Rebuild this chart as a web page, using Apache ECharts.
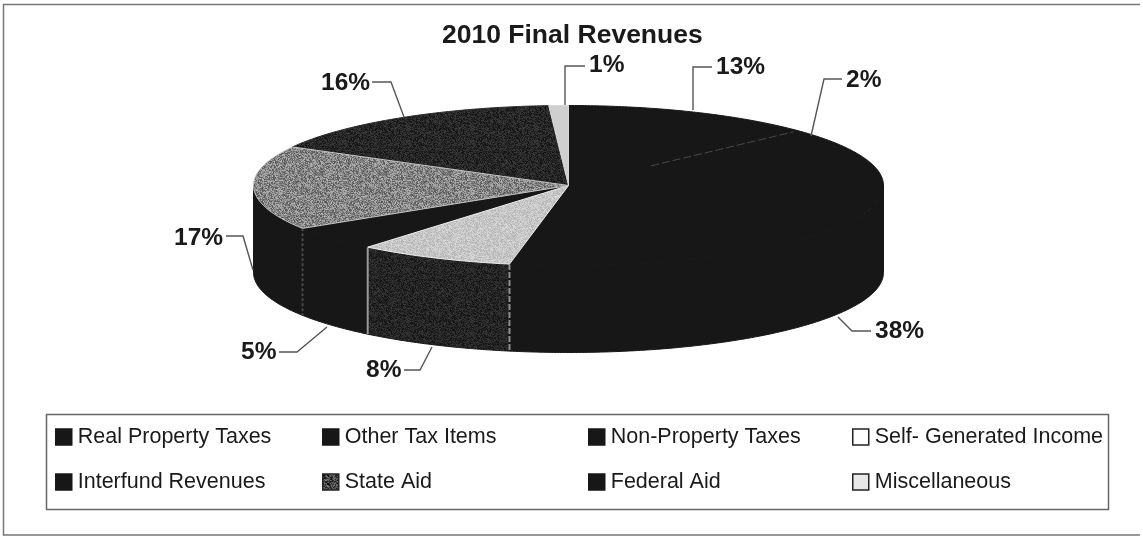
<!DOCTYPE html>
<html>
<head>
<meta charset="utf-8">
<style>html,body{margin:0;padding:0;background:#fff}#chart{width:1143px;height:537px}</style>
<script src="https://cdn.jsdelivr.net/npm/echarts@6/dist/echarts.min.js"></script>
</head>
<body>
<div id="chart"></div>
<script>
// Revenue categories, listed clockwise from twelve o'clock.
const categories = ['Real Property Taxes', 'Other Tax Items', 'Non-Property Taxes', 'Self- Generated Income',
  'Interfund Revenues', 'State Aid', 'Federal Aid', 'Miscellaneous'];
const shares = [13, 2, 38, 8, 5, 17, 16, 1];

// Disc geometry: flattened ellipse with a constant extrusion depth.
const disc = { cx: 568.5, cy: 185.5, rx: 315, ry: 80, depth: 87 };

// Halftone-style grain, built from a small integer hash so it stays the same on every draw.
function grain(base, spread) {
  const c = document.createElement('canvas');
  c.width = c.height = 64;
  const g = c.getContext('2d');
  const img = g.createImageData(64, 64);
  for (let y = 0; y < 64; y++) for (let x = 0; x < 64; x++) {
    let h = (x * 374761393 + y * 668265263) | 0;
    h = Math.imul(h ^ (h >>> 13), 1274126177);
    h = (h ^ (h >>> 16)) >>> 0;
    const v = Math.max(0, Math.min(255, base + ((h % 1000) / 1000 - 0.5) * spread));
    const i = (y * 64 + x) * 4;
    img.data[i] = img.data[i + 1] = img.data[i + 2] = v;
    img.data[i + 3] = 255;
  }
  g.putImageData(img, 0, 0);
  return { image: c, repeat: 'repeat' };
}

const ink = '#171717';
const topFills = [ink, ink, ink, grain(198, 40), ink, grain(132, 100), grain(38, 44), '#cfcfcf'];
const sideFills = [ink, ink, ink, grain(36, 40), ink, ink, ink, ink];
const topStrokes = [ink, ink, ink, '#eeeeee', ink, '#c4c4c4', '#2a2a2a', '#d8d8d8'];
const legendFills = [ink, ink, ink, '#ffffff', ink, grain(70, 150), ink, '#e8e8e8'];
const legendBorders = [ink, ink, ink, '#222222', ink, '#222222', ink, '#222222'];
// Pale seam down the wall where a slice starts.
const seams = { 3: { stroke: '#8f8f8f', lineDash: [6, 2] }, 4: { stroke: '#9a9a9a', lineDash: null }, 5: { stroke: '#4a4a4a', lineDash: [3, 2] } };

// Callout placement per slice: leader polyline and the label's left/middle anchor.
const callouts = [
  { leader: [[693, 110], [693, 67], [712, 67]], at: [716, 67] },
  { leader: [[811, 136], [824, 79], [842, 79]], at: [846, 80] },
  { leader: [[838, 317], [852, 331], [871, 331]], at: [875, 331] },
  { leader: [[432, 347], [420, 370], [404, 370]], at: [366, 370] },
  { leader: [[327, 327], [297, 352], [279, 352]], at: [241, 352] },
  { leader: [[253, 270], [243, 236], [226, 236]], at: [174, 238] },
  { leader: [[404, 117], [391, 82], [372, 82]], at: [321, 83] },
  { leader: [[565, 105], [565, 66], [585, 66]], at: [589, 65] }
];

function rim(angle, drop) {
  return [disc.cx + disc.rx * Math.sin(angle), disc.cy - disc.ry * Math.cos(angle) + (drop || 0)];
}

function arcPoints(a0, a1, drop) {
  const n = Math.max(2, Math.ceil(Math.abs(a1 - a0) / 0.01));
  const pts = [];
  for (let i = 0; i <= n; i++) pts.push(rim(a0 + (a1 - a0) * i / n, drop));
  return pts;
}

function renderSlice(index) {
  return function (params, api) {
    const toAngle = v => v / 100 * Math.PI * 2;
    const start = toAngle(api.value(1));
    const end = toAngle(api.value(1) + api.value(0));
    const children = [];

    // Extruded wall: only the part of the rim that faces the viewer.
    const v0 = Math.max(start, Math.PI / 2);
    const v1 = Math.min(end, Math.PI * 1.5);
    if (v1 > v0) {
      const wall = arcPoints(v0, v1, 0).concat(arcPoints(v1, v0, disc.depth));
      children.push({ type: 'polygon', z2: 1, shape: { points: wall },
        style: { fill: sideFills[index], stroke: ink, lineWidth: 1 } });
      if (seams[index]) {
        const a = rim(v0, 0), b = rim(v0, disc.depth);
        children.push({ type: 'line', z2: 3, shape: { x1: a[0], y1: a[1], x2: b[0], y2: b[1] },
          style: { stroke: seams[index].stroke, lineWidth: 2, lineDash: seams[index].lineDash } });
      }
    }

    // Top face, drawn above every wall.
    const face = [[disc.cx, disc.cy]].concat(arcPoints(start, end, 0));
    children.push({ type: 'polygon', z2: 10 + (index === 3 || index === 5 || index === 7 ? 1 : 0), shape: { points: face },
      style: { fill: topFills[index], stroke: topStrokes[index], lineWidth: 1 } });

    // Faint scratch line along the boundary of the first two dark slices.
    if (index === 1) {
      const p = rim(start);
      children.push({ type: 'line', z2: 12, shape: {
        x1: disc.cx + (p[0] - disc.cx) * 0.36, y1: disc.cy + (p[1] - disc.cy) * 0.36,
        x2: disc.cx + (p[0] - disc.cx) * 0.98, y2: disc.cy + (p[1] - disc.cy) * 0.98 },
        style: { stroke: '#484848', lineWidth: 1, lineDash: [8, 3] } });
    }

    // Percentage callout.
    const c = callouts[index];
    children.push({ type: 'polyline', z2: 20, shape: { points: c.leader },
      style: { stroke: '#555555', lineWidth: 1.4, fill: null } });
    children.push({ type: 'text', z2: 21, x: c.at[0], y: c.at[1], style: {
      text: api.value(0) + '%', fill: '#1a1a1a', verticalAlign: 'middle', align: 'left',
      font: 'bold 24.5px "Liberation Sans", Arial, sans-serif' } });

    return { type: 'group', children };
  };
}

let running = 0;
const series = categories.map((name, i) => {
  const row = [shares[i], running];
  running += shares[i];
  return {
    type: 'custom', name, coordinateSystem: 'none', silent: true, clip: false,
    itemStyle: { color: ink }, animation: false,
    renderItem: renderSlice(i), data: [row]
  };
});

// One vertical legend per column, so the two rows line up as printed.
const legendColumns = [[0, 4, 50], [1, 5, 317], [2, 6, 583], [3, 7, 847]];
const legend = legendColumns.map(([a, b, left]) => ({
  orient: 'vertical', left, top: 421, itemWidth: 16, itemHeight: 16, itemGap: 23, icon: 'rect',
  selectedMode: false,
  textStyle: { fontFamily: '"Liberation Sans", Arial, sans-serif', fontSize: 21.5, color: '#1a1a1a', padding: [0, 0, 3, 1] },
  data: [a, b].map(i => ({ name: categories[i],
    itemStyle: { color: legendFills[i], borderColor: legendBorders[i], borderWidth: 1.5 } }))
}));

const chart = echarts.init(document.getElementById('chart'), null, { renderer: 'canvas' });
chart.setOption({
  animation: false,
  backgroundColor: '#ffffff',
  title: { text: '2010 Final Revenues', left: 437, top: 17,
    textStyle: { fontFamily: '"Liberation Sans", Arial, sans-serif', fontWeight: 'bold', fontSize: 26.5, color: '#1a1a1a' } },
  legend,
  graphic: [
    // Outer frame: the right-hand side stays open.
    { type: 'polyline', z: -1, silent: true, shape: { points: [[1140, 4.5], [3.5, 4.5], [3.5, 535], [1140, 535]] },
      style: { fill: null, stroke: '#777777', lineWidth: 1.5 } },
    { type: 'rect', z: -1, silent: true, shape: { x: 46.5, y: 414.5, width: 1062, height: 95 },
      style: { fill: '#ffffff', stroke: '#666666', lineWidth: 1.5 } }
  ],
  series
});
</script>
</body>
</html>
